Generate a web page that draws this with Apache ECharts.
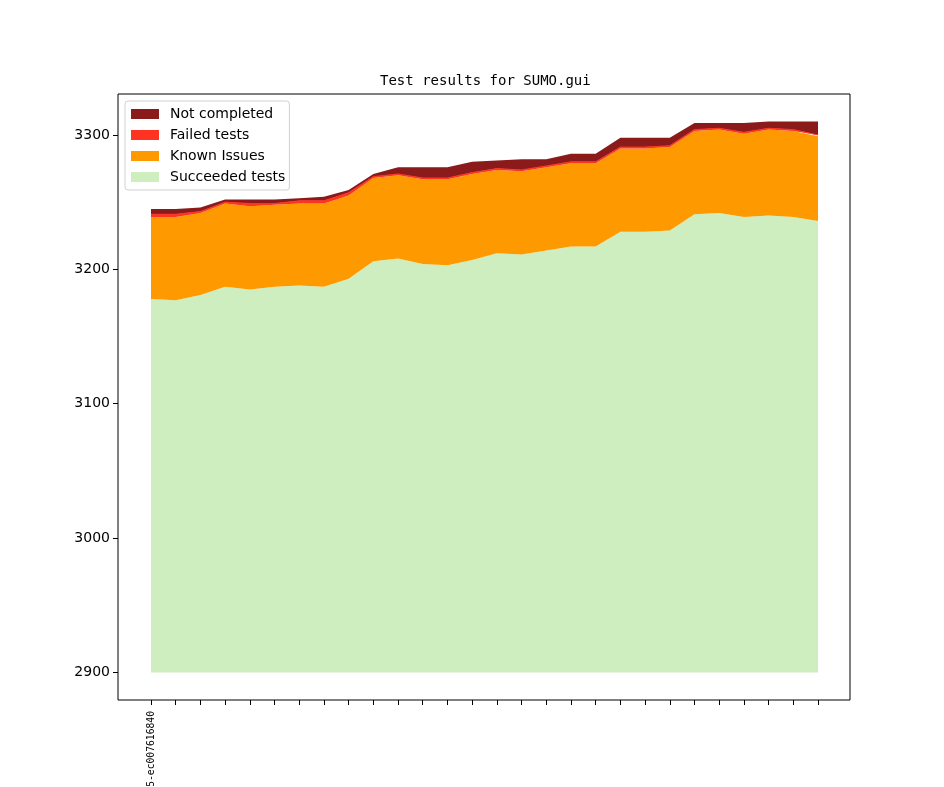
<!DOCTYPE html>
<html>
<head>
<meta charset="utf-8">
<title>Test results for SUMO.gui</title>
<script src="https://cdn.jsdelivr.net/npm/echarts@6/dist/echarts.min.js"></script>
<style>
  html, body { margin: 0; padding: 0; background: #fff; }
  #chart-container { width: 944px; height: 787px; }
</style>
</head>
<body>
<div id="chart-container"></div>
<script>
// one entry per test run, only the first one is labelled in the original
const revisions = [
  'v1_20_0+0065-ec007616840', '', '', '', '', '', '', '', '', '', '', '', '', '',
  '', '', '', '', '', '', '', '', '', '', '', '', '', ''
];
const succeeded = [
  3178, 3177, 3181, 3187, 3185, 3187, 3188, 3187, 3193, 3206, 3208, 3204, 3203, 3207,
  3212, 3211, 3214, 3217, 3217, 3228, 3228, 3229, 3241, 3242, 3239, 3240, 3239, 3236
];
const knownIssues = [
  61, 62, 61, 62, 62, 61, 61, 62, 62, 62, 62, 63, 64, 64,
  62, 62, 62, 62, 62, 62, 62, 62, 62, 62, 62, 64, 64, 63
];
const failedTests = [
  2, 2, 1, 1, 2, 1, 2, 2, 2, 1, 1, 1, 1, 1,
  1, 1, 1, 1, 1, 1, 1, 1, 1, 1, 1, 1, 1, 1
];
const notCompleted = [
  4, 4, 3, 2, 3, 3, 2, 3, 2, 2, 5, 8, 8, 8,
  6, 8, 5, 6, 6, 7, 7, 6, 5, 4, 7, 5, 6, 10
];
const yTicks = [2900, 3000, 3100, 3200, 3300];
const baseValue = 2900;

let dom = document.getElementById('chart-container');
let myChart = echarts.init(dom, null, { renderer: 'canvas' });

function layer(name, data, color, edge) {
  return {
    name: name,
    type: 'line',
    stack: 'total',
    data: data,
    xAxisIndex: 0,
    yAxisIndex: 0,
    symbol: 'none',
    lineStyle: { width: edge, color: color },
    areaStyle: { color: color, opacity: 1, origin: baseValue },
    itemStyle: { color: color },
    silent: true,
    animation: false
  };
}

let option = {
  animation: false,
  backgroundColor: '#fff',
  textStyle: { fontFamily: 'DejaVu Sans' },
  title: {
    text: 'Test results for SUMO.gui',
    left: 375,
    top: 69,
    textStyle: {
      fontFamily: 'DejaVu Sans Mono',
      fontSize: 14,
      fontWeight: 'normal',
      color: '#000'
    }
  },
  legend: {
    orient: 'vertical',
    left: 125,
    top: 101,
    data: ['Not completed', 'Failed tests', 'Known Issues', 'Succeeded tests'],
    icon: 'rect',
    itemWidth: 28,
    itemHeight: 10,
    itemGap: 5,
    padding: [5, 4, 5, 6],
    backgroundColor: 'rgba(255,255,255,0.8)',
    borderColor: '#d0d0d0',
    borderWidth: 1,
    borderRadius: 3,
    textStyle: { fontFamily: 'DejaVu Sans', fontSize: 14, color: '#000',
      padding: [0, 0, 0, 6], lineHeight: 16 }
  },
  grid: [
    { left: 151, right: 126, top: 94, bottom: 87, outerBoundsMode: 'none',
      containLabel: false },
    { left: 118, right: 94, top: 94, bottom: 87, show: true, outerBoundsMode: 'none',
      borderColor: '#000', borderWidth: 1, backgroundColor: 'transparent' }
  ],
  xAxis: [
    {
      type: 'category',
      gridIndex: 0,
      data: revisions,
      boundaryGap: false,
      axisLine: { show: false },
      axisTick: { show: true, length: 5, inside: false, alignWithLabel: true,
        interval: 0, lineStyle: { color: '#000' } },
      axisLabel: {
        interval: 0,
        rotate: 90,
        margin: 11,
        fontFamily: 'DejaVu Sans Mono',
        fontSize: 9.7,
        color: '#000'
      },
      splitLine: { show: false }
    },
    { type: 'value', gridIndex: 1, show: false }
  ],
  yAxis: [
    {
      type: 'value',
      gridIndex: 0,
      min: 2879.5,
      max: 3330.5,
      offset: 33,
      axisLine: { show: false },
      axisTick: { show: true, length: 5, lineStyle: { color: '#000' },
        customValues: yTicks },
      axisLabel: {
        customValues: yTicks,
        formatter: function (v) { return String(v); },
        margin: 8,
        fontFamily: 'DejaVu Sans',
        fontSize: 14,
        color: '#000'
      },
      splitLine: { show: false }
    },
    { type: 'value', gridIndex: 1, show: false }
  ],
  series: [
    layer('Succeeded tests', succeeded, '#ceeebf', 0),
    layer('Known Issues', knownIssues, '#ff9900', 0),
    layer('Failed tests', failedTests, '#ff3322', 1),
    layer('Not completed', notCompleted, '#8b1a1a', 0)
  ]
};

if (option && typeof option === 'object') {
  myChart.setOption(option);
}

window.addEventListener('resize', myChart.resize);
</script>
</body>
</html>
